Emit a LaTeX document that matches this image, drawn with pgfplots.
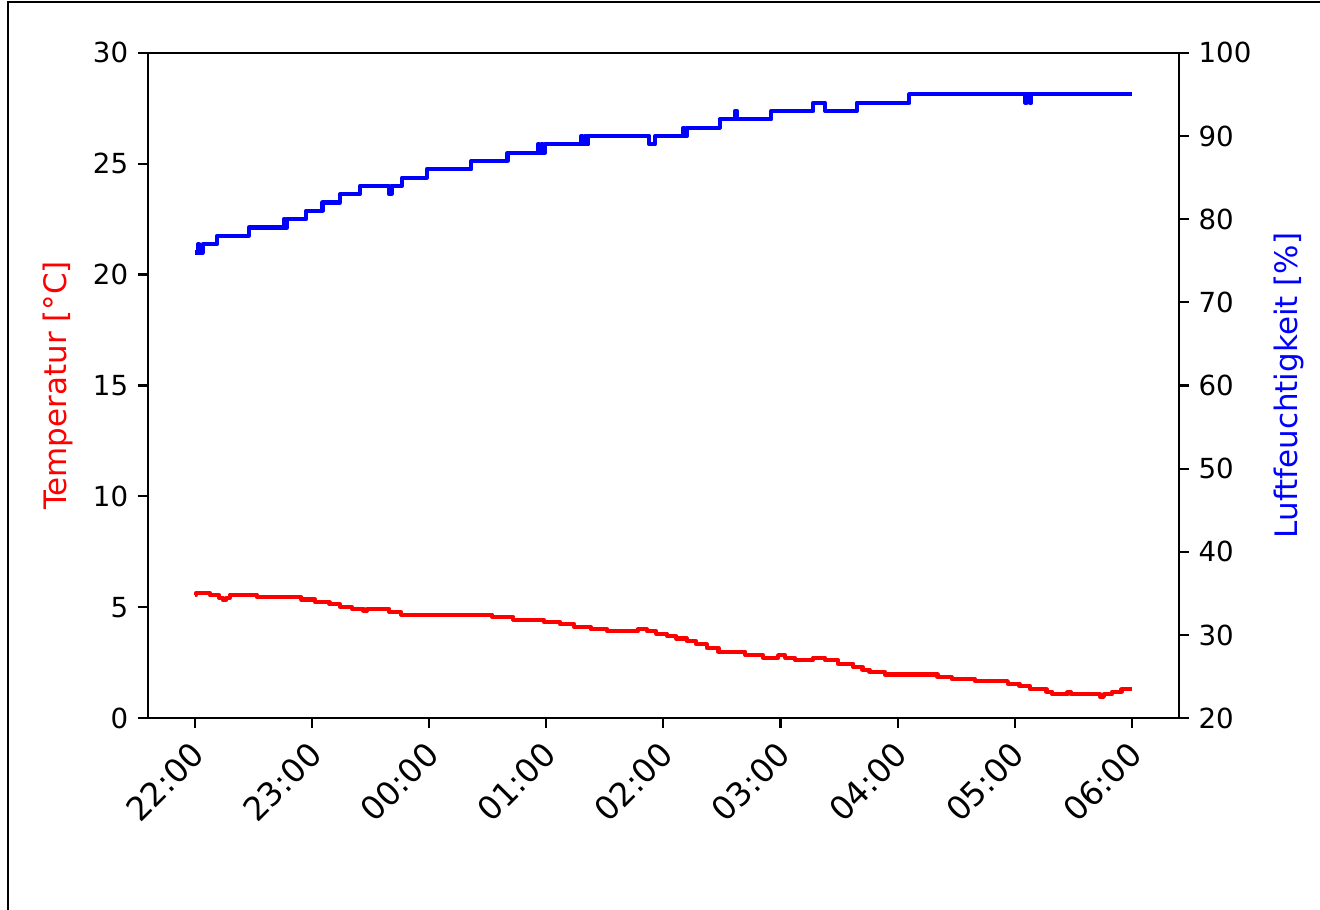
\documentclass[border=0pt]{standalone}
\usepackage{fontspec}
\setmainfont{DejaVu Sans}
\usepackage{pgfplots}
\usepackage{pgfplotstable}
\pgfplotsset{compat=1.18}

\pgfplotstableread{
h T
0.00 5.54
0.01 5.64
0.13 5.54
0.21 5.42
0.24 5.33
0.27 5.42
0.30 5.57
0.53 5.46
0.91 5.35
1.03 5.23
1.15 5.13
1.24 5.02
1.34 4.93
1.44 4.84
1.47 4.93
1.66 4.79
1.76 4.67
2.54 4.56
2.72 4.44
2.98 4.34
3.12 4.23
3.24 4.11
3.38 4.01
3.52 3.92
3.78 4.01
3.86 3.92
3.94 3.81
4.03 3.71
4.11 3.59
4.20 3.47
4.28 3.33
4.37 3.18
4.47 2.99
4.70 2.85
4.85 2.73
4.98 2.84
5.04 2.73
5.12 2.64
5.28 2.73
5.38 2.62
5.49 2.46
5.62 2.31
5.70 2.19
5.76 2.09
5.89 1.97
6.34 1.86
6.46 1.76
6.66 1.67
6.94 1.56
7.04 1.44
7.13 1.31
7.27 1.19
7.32 1.08
7.45 1.17
7.48 1.08
7.73 0.96
7.76 1.08
7.83 1.19
7.91 1.30
8.00 1.30
}\temptable

\pgfplotstableread{
h H
0.00 76
0.03 77
0.04 76
0.07 77
0.19 78
0.46 79
0.76 80
0.77 79
0.79 80
0.95 81
1.09 82
1.24 83
1.41 84
1.66 83
1.68 84
1.77 85
1.98 86
2.36 87
2.67 88
2.93 89
2.94 88
2.96 89
2.97 88
2.99 89
3.30 90
3.31 89
3.33 90
3.34 89
3.36 90
3.88 89
3.93 90
4.17 91
4.18 90
4.20 91
4.48 92
4.61 93
4.63 92
4.92 93
5.28 94
5.38 93
5.65 94
6.10 95
7.09 94
7.10 95
7.13 94
7.14 95
8.00 95
}\humtable

\begin{document}
\begin{tikzpicture}[x=0.005in,y=0.005in]
\path[use as bounding box] (0,0) rectangle (1320,910);
\draw[line width=0.8pt] (8,0) -- (8,908) -- (1320,908);
\pgfplotsset{
  every axis/.append style={
    at={(0.74in,0.96in)}, anchor=south west,
    scale only axis, width=5.16in, height=3.33in,
    xmin=-0.4, xmax=8.4,
    tick align=outside,
    major tick length=0.05in,
    axis line style={line width=0.8pt},
    every tick/.style={black, line width=0.8pt},
    /pgf/number format/assume math mode=true,
    tick label style={font=\fontsize{10}{12}\selectfont},
    label style={font=\fontsize{11.2}{13}\selectfont},
  }
}
\begin{axis}[
  ymin=0, ymax=30,
  xtick={0,1,2,3,4,5,6,7,8},
  xticklabels={22:00,23:00,00:00,01:00,02:00,03:00,04:00,05:00,06:00},
  xtick pos=left, ytick pos=left,
  ytick={0,5,10,15,20,25,30},
  xticklabel style={font=\fontsize{11.8}{13}\selectfont, rotate=45, anchor=north east, inner sep=1pt, xshift=-3.2pt, yshift=-0.5pt},
  ylabel={Temperatur [°C]},
  ylabel style={at={(axis description cs:-0.0872,0.5)}, anchor=center, red},
]
\addplot[red, line width=1.5pt, line join=round, const plot mark left] table[x=h,y=T] {\temptable};
\end{axis}
\begin{axis}[
  ymin=20, ymax=100,
  xtick=\empty,
  ytick pos=right, yticklabel pos=right,
  ytick={20,30,40,50,60,70,80,90,100},
  ylabel={Luftfeuchtigkeit [\%]},
  ylabel style={at={(axis description cs:1.1065,0.5)}, anchor=center, blue},
]
\addplot[blue, line width=1.5pt, line join=round, const plot mark left] table[x=h,y=H] {\humtable};
\end{axis}
\end{tikzpicture}
\end{document}
